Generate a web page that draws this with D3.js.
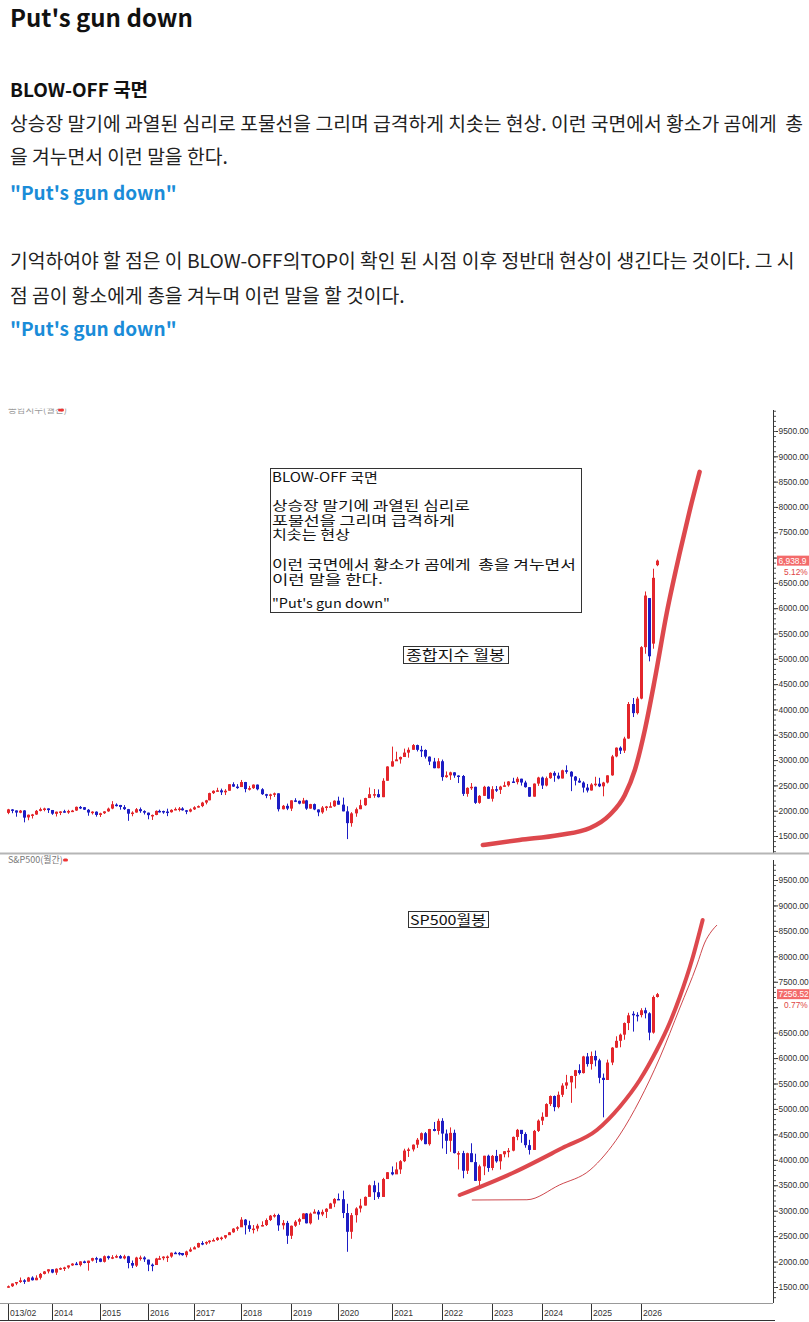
<!DOCTYPE html>
<html><head><meta charset="utf-8">
<script src="https://cdn.jsdelivr.net/npm/d3@7"></script>
<style>body{margin:0;background:#fff;overflow:hidden}</style>
</head><body><svg id="c"></svg>
<script>
// ---------------- DATA ----------------
const firstMonth = "2013-02";
// KOSPI monthly [open, high, low, close]
const kospiOHLC = [
 // 2013 (Feb-Dec)
 [1957,2036,1931,2026],[2025,2031,1950,2004],[2005,2006,1881,1963],[1960,2014,1950,2001],[2005,2011,1770,1863],[1868,1924,1811,1920],[1920,1937,1845,1926],[1924,2014,1917,1997],[1996,2060,1986,2030],[2035,2059,1988,2044],[2045,2046,1955,2011],
 // 2014
 [2013,2014,1918,1941],[1938,1982,1885,1980],[1975,1991,1913,1985],[1990,2018,1960,1961],[1963,2018,1938,1995],[1997,2016,1972,2002],[2003,2082,1995,2076],[2074,2093,2032,2068],[2069,2073,2013,2020],[2018,2032,1900,1964],[1965,1989,1925,1981],[1980,1987,1882,1916],
 // 2015
 [1916,1960,1876,1949],[1950,1990,1935,1986],[1987,2061,1978,2041],[2042,2189,2029,2127],[2120,2145,2083,2114],[2113,2114,2020,2074],[2070,2110,2015,2030],[2030,2035,1800,1941],[1942,1988,1890,1963],[1964,2053,1960,2029],[2030,2063,1958,1991],[1992,2008,1925,1961],
 // 2016
 [1961,1963,1830,1912],[1913,1924,1817,1916],[1916,2005,1910,1996],[1996,2021,1965,1994],[1994,2001,1939,1983],[1983,2040,1892,1970],[1970,2028,1962,2016],[2016,2063,2008,2034],[2034,2073,1985,2043],[2044,2069,2001,2008],[2008,2014,1931,1983],[1983,2045,1968,2026],
 // 2017
 [2026,2088,2014,2067],[2068,2104,2060,2091],[2091,2175,2070,2160],[2160,2214,2125,2205],[2205,2355,2205,2347],[2347,2402,2330,2392],[2392,2453,2380,2402],[2402,2436,2310,2363],[2363,2425,2309,2394],[2394,2524,2394,2523],[2523,2561,2470,2476],[2476,2524,2432,2467],
 // 2018
 [2467,2607,2467,2566],[2566,2569,2363,2427],[2427,2490,2400,2445],[2445,2519,2430,2515],[2515,2518,2402,2423],[2423,2445,2312,2326],[2326,2333,2247,2295],[2295,2335,2220,2322],[2322,2358,2270,2343],[2343,2343,1985,2029],[2029,2113,2025,2096],[2096,2140,2011,2041],
 // 2019
 [2041,2206,1993,2204],[2204,2246,2170,2195],[2195,2199,2126,2140],[2140,2253,2140,2203],[2203,2214,2016,2041],[2041,2135,2037,2130],[2130,2141,2010,2024],[2024,2026,1891,1967],[1967,2092,1939,2063],[2063,2094,2001,2083],[2083,2166,2075,2087],[2087,2205,2075,2197],
 // 2020
 [2197,2277,2119,2119],[2119,2258,1987,1987],[1987,2088,1439,1754],[1754,1971,1684,1947],[1947,2062,1880,2029],[2029,2217,2030,2108],[2108,2255,2095,2249],[2249,2458,2250,2326],[2326,2428,2254,2327],[2327,2420,2260,2267],[2267,2641,2267,2591],[2591,2878,2591,2873],
 // 2021
 [2873,3266,2869,2976],[2976,3165,2988,3013],[3013,3070,2930,3061],[3061,3226,3060,3147],[3147,3249,3047,3203],[3203,3316,3203,3296],[3296,3305,3170,3202],[3202,3280,3060,3199],[3199,3212,3030,3068],[3068,3072,2901,2971],[2971,3043,2838,2839],[2839,3037,2837,2977],
 // 2022
 [2977,3010,2591,2663],[2663,2775,2650,2699],[2699,2770,2608,2757],[2757,2760,2650,2695],[2695,2700,2546,2685],[2685,2705,2291,2332],[2332,2462,2276,2451],[2451,2546,2409,2472],[2472,2474,2134,2155],[2155,2308,2137,2293],[2293,2491,2290,2472],[2472,2482,2233,2236],
 // 2023
 [2236,2484,2180,2425],[2425,2488,2370,2412],[2412,2492,2330,2476],[2476,2572,2473,2501],[2501,2584,2474,2577],[2577,2650,2563,2564],[2564,2668,2520,2632],[2632,2632,2496,2556],[2556,2592,2455,2465],[2465,2466,2273,2277],[2277,2539,2277,2535],[2535,2670,2490,2655],
 // 2024
 [2655,2675,2429,2497],[2497,2674,2480,2642],[2642,2757,2630,2747],[2747,2779,2571,2692],[2692,2752,2620,2636],[2636,2810,2636,2798],[2798,2896,2730,2770],[2770,2780,2386,2674],[2674,2685,2500,2593],[2593,2641,2550,2556],[2556,2580,2360,2456],[2456,2528,2360,2399],
 // 2025
 [2399,2544,2397,2517],[2517,2670,2480,2533],[2533,2650,2466,2481],[2481,2570,2284,2556],[2556,2700,2538,2698],[2698,3102,2690,3072],[3072,3250,3055,3245],[3245,3270,3120,3186],[3186,3460,3140,3425],[3425,4146,3420,4107],[4107,4226,3850,3927],[3927,4250,3900,4214],
 // 2026 (Jan-May)
 [4214,5250,4200,5230],[5230,6330,5100,6250],[6200,6200,4950,5050],[5300,6780,5200,6600],[6850,6960,6830,6939]
];
// S&P500 monthly [open, high, low, close]
const spxOHLC = [
 // 2013 (Feb-Dec)
 [1498,1530,1485,1515],[1515,1570,1501,1569],[1569,1598,1536,1598],[1598,1687,1581,1631],[1631,1654,1560,1606],[1606,1698,1605,1686],[1686,1710,1627,1633],[1633,1730,1633,1682],[1682,1776,1647,1757],[1757,1814,1747,1806],[1806,1849,1767,1848],
 // 2014
 [1848,1850,1770,1783],[1783,1867,1738,1859],[1859,1884,1834,1872],[1872,1898,1815,1884],[1884,1924,1859,1924],[1924,1968,1915,1960],[1960,1992,1930,1931],[1931,2005,1904,2003],[2003,2019,1965,1972],[1972,2018,1821,2018],[2018,2075,2001,2068],[2068,2093,1972,2059],
 // 2015
 [2059,2064,1988,1995],[1995,2120,1981,2105],[2105,2117,2039,2068],[2068,2126,2048,2086],[2086,2135,2068,2107],[2107,2130,2056,2063],[2063,2133,2044,2104],[2104,2113,1867,1972],[1972,2021,1872,1920],[1920,2094,1893,2079],[2079,2117,2019,2080],[2080,2104,1993,2044],
 // 2016
 [2038,2038,1812,1940],[1940,1963,1810,1932],[1932,2073,1937,2060],[2060,2112,2034,2065],[2065,2104,2026,2097],[2097,2120,1992,2099],[2099,2178,2075,2174],[2174,2194,2148,2171],[2171,2188,2120,2168],[2168,2169,2115,2126],[2126,2214,2084,2199],[2199,2278,2187,2239],
 // 2017
 [2239,2301,2245,2279],[2279,2371,2271,2364],[2364,2401,2322,2363],[2363,2398,2328,2384],[2384,2418,2353,2412],[2412,2454,2405,2423],[2423,2484,2407,2470],[2470,2491,2417,2472],[2472,2519,2446,2519],[2519,2582,2521,2575],[2575,2657,2566,2648],[2648,2695,2605,2674],
 // 2018
 [2674,2873,2683,2824],[2824,2835,2533,2714],[2714,2801,2585,2641],[2641,2718,2553,2648],[2648,2742,2594,2705],[2705,2791,2691,2718],[2718,2848,2699,2816],[2816,2916,2796,2902],[2902,2941,2864,2914],[2914,2940,2604,2712],[2712,2815,2631,2760],[2760,2800,2347,2507],
 // 2019
 [2507,2708,2444,2704],[2704,2814,2681,2784],[2784,2860,2722,2834],[2834,2950,2848,2946],[2946,2954,2750,2752],[2752,2964,2729,2942],[2942,3028,2952,2980],[2980,3014,2822,2926],[2926,3022,2892,2977],[2977,3050,2856,3038],[3038,3154,3050,3141],[3141,3248,3070,3231],
 // 2020
 [3231,3338,3214,3226],[3226,3394,2855,2954],[2954,3136,2192,2585],[2585,2955,2447,2912],[2912,3068,2767,3044],[3044,3233,2966,3100],[3100,3280,3101,3271],[3271,3514,3280,3500],[3500,3588,3210,3363],[3363,3550,3234,3270],[3270,3646,3280,3622],[3622,3760,3633,3756],
 // 2021
 [3756,3870,3695,3714],[3714,3950,3725,3811],[3811,3994,3723,3973],[3973,4218,3955,4181],[4181,4238,4056,4204],[4204,4302,4164,4298],[4298,4429,4233,4395],[4395,4538,4367,4523],[4523,4546,4306,4308],[4308,4608,4279,4605],[4605,4744,4560,4567],[4567,4808,4495,4766],
 // 2022
 [4766,4818,4223,4516],[4516,4595,4115,4374],[4374,4637,4157,4530],[4530,4593,4124,4132],[4132,4169,3811,4132],[4132,4177,3637,3785],[3785,4140,3721,4130],[4130,4325,3955,3955],[3955,4120,3585,3586],[3586,3905,3492,3872],[3872,4080,3699,4080],[4080,4101,3764,3840],
 // 2023
 [3840,4095,3794,4077],[4077,4195,3943,3970],[3970,4110,3809,4109],[4109,4170,4049,4169],[4169,4231,4048,4180],[4180,4458,4167,4450],[4450,4607,4385,4589],[4589,4584,4335,4508],[4508,4541,4238,4288],[4288,4393,4104,4194],[4194,4587,4195,4568],[4568,4794,4547,4770],
 // 2024
 [4770,4932,4683,4846],[4846,5112,4845,5096],[5096,5265,5057,5254],[5254,5264,4954,5036],[5036,5342,5011,5278],[5278,5505,5234,5460],[5460,5670,5391,5522],[5522,5651,5120,5648],[5648,5768,5403,5762],[5762,5878,5675,5705],[5705,6044,5696,6032],[6032,6100,5832,5882],
 // 2025
 [5882,6128,5773,6041],[6041,6147,5837,5955],[5955,5986,5505,5612],[5612,5696,4835,5569],[5569,5969,5578,5912],[5912,6215,5861,6205],[6205,6428,6201,6339],[6339,6482,6212,6460],[6460,6700,6360,6688],[6688,6890,6550,6840],[6870,6920,6520,6849],[6849,6900,6720,6845],
 // 2026 (Jan-May)
 [6845,6980,6800,6940],[6940,6990,6780,6880],[6880,6900,6350,6500],[6500,7230,6480,7200],[7200,7280,7190,7256]
];
// hand-drawn parabola annotations [date, value]
const kospiCurve = [["2022-10-26",1322],["2023-07-21",1421],["2024-05-10",1520],["2024-12-25",1658],["2025-05-17",1915],["2025-09-05",2310],["2025-11-17",2804],["2026-01-29",3595],["2026-04-11",4583],["2026-07-08",5907],["2026-10-11",7093],["2026-12-24",7943],["2027-03-05",8694]];
const spxCurve = [["2022-05-10",3308],["2023-06-01",3741],["2024-06-01",4232],["2025-02-13",4586],["2025-07-29",5038],["2025-12-23",5568],["2026-04-26",6158],["2026-07-29",6689],["2026-10-11",7200],["2027-01-08",7927],["2027-03-27",8713]];
const spxTrail = [["2022-08-07",3210],["2023-09-13",3215],["2024-05-10",3505],["2024-12-25",3800],["2025-04-11",4094],["2025-07-29",4487],["2025-12-23",5175],["2026-05-17",6000],["2026-10-11",6983],["2027-02-13",7829],["2027-04-10",8261],["2027-06-01",8497],["2027-07-10",8615]];
const yearTickDates = ["2013-02","2014-01","2015-01","2016-01","2017-01","2018-01","2019-01","2020-01","2021-01","2022-01","2023-01","2024-01","2025-01","2026-01"];
const yearTickLabels = ["013/02","2014","2015","2016","2017","2018","2019","2020","2021","2022","2023","2024","2025","2026"];
const priceMin = 1500, priceMax = 9500;
const kospiLast = "6,938.9", kospiPct = "5.12%";
const spxLast = "7256.52", spxPct = "0.77%";

// ---------------- LAYOUT ----------------
const W = 809, H = 1322;
const svg = d3.select("#c").attr("width", W).attr("height", H);
const KR = "'Noto Sans CJK KR','Noto Sans',sans-serif";
const AX = "'Liberation Sans',Arial,sans-serif";

// blog text
const T = svg.append("g").attr("font-family", KR);
T.append("text").attr("x",10).attr("y",27).attr("font-size",24).attr("font-weight",700).attr("fill","#111").text("Put's gun down");
T.append("text").attr("x",10).attr("y",97).attr("font-size",19).attr("font-weight",700).attr("fill","#111").text("BLOW-OFF 국면");
const bodyLines = [
 ["상승장 말기에 과열된 심리로 포물선을 그리며 급격하게 치솟는 현상. 이런 국면에서 황소가 곰에게  총",131],
 ["을 겨누면서 이런 말을 한다.",164],
 ["기억하여야 할 점은 이 BLOW-OFF의TOP이 확인 된 시점 이후 정반대 현상이 생긴다는 것이다. 그 시",268],
 ["점 곰이 황소에게 총을 겨누며 이런 말을 할 것이다.",303]
];
bodyLines.forEach(([t,y]) => T.append("text").attr("x",10).attr("y",y).attr("font-size",19.3).attr("fill","#222").style("white-space","pre").text(t));
[200,336].forEach(y => T.append("text").attr("x",10).attr("y",y).attr("font-size",19).attr("font-weight",700).attr("fill","#1a8cd8").text("\"Put's gun down\""));

// x scale (piecewise, following the screenshot's year ticks)
const parseM = d3.timeParse("%Y-%m");
const parseD = d3.timeParse("%Y-%m-%d");
const yearX = [8,52,100,148,194,241,291,338,392,442,492,542,591,641];
const x = d3.scaleTime().domain(yearTickDates.map(parseM)).range(yearX);
const months = d3.timeMonth.range(parseM(firstMonth), d3.timeMonth.offset(parseM(firstMonth), kospiOHLC.length));

const axisX = 773;
const panels = [
 {top:405, bottom:853, y: d3.scaleLinear().domain([priceMin,priceMax]).range([836,431]), data:kospiOHLC, last:kospiLast, pct:kospiPct},
 {top:855, bottom:1303, y: d3.scaleLinear().domain([priceMin,priceMax]).range([1287,880]), data:spxOHLC, last:spxLast, pct:spxPct}
];
const RED = "#e3262b", BLUE = "#1d1dc4";

panels.forEach((p,pi) => {
  const g = svg.append("g");
  const clipId = "clip"+pi;
  svg.append("clipPath").attr("id",clipId).append("rect").attr("x",0).attr("y",p.top).attr("width",axisX).attr("height",p.bottom-p.top);
  const plot = g.append("g").attr("clip-path",`url(#${clipId})`);
  const c = plot.selectAll("g.c").data(p.data).join("g");
  c.append("line")
    .attr("x1",(d,i)=>Math.round(x(months[i]))+0.5).attr("x2",(d,i)=>Math.round(x(months[i]))+0.5)
    .attr("y1",d=>p.y(d[1])).attr("y2",d=>p.y(d[2]))
    .attr("stroke",d=>d[3]>=d[0]?RED:BLUE).attr("stroke-width",1);
  c.append("rect")
    .attr("x",(d,i)=>Math.round(x(months[i]))-1).attr("width",3)
    .attr("y",d=>p.y(Math.max(d[0],d[3])))
    .attr("height",d=>Math.max(1.5,Math.abs(p.y(d[0])-p.y(d[3]))))
    .attr("fill",d=>d[3]>=d[0]?RED:BLUE);
  const ly = p.y(+p.data[p.data.length-1][3]);
  const majors = d3.range(priceMin,priceMax+1,500);
  const ay = d3.axisRight(p.y).tickValues(majors).tickFormat(v => Math.abs(p.y(v)-ly-5) < 12 ? "" : d3.format(".2f")(v)).tickSize(5).tickSizeOuter(0);
  const ag = g.append("g").attr("transform",`translate(${axisX},0)`).call(ay);
  ag.select(".domain").remove();
  ag.selectAll("text").attr("font-family",AX).attr("font-size",8.4).attr("fill","#333").attr("x",5.5);
  ag.selectAll("line").attr("stroke","#333");
  const minor = d3.axisRight(p.y).tickValues(d3.range(priceMin-300,priceMax+500,100).filter(v=>p.y(v)>p.top+5 && p.y(v)<p.bottom-1)).tickFormat("").tickSize(3).tickSizeOuter(0);
  const mg = g.append("g").attr("transform",`translate(${axisX},0)`).call(minor);
  mg.select(".domain").remove();
  mg.selectAll("line").attr("stroke","#555");
  g.append("line").attr("x1",axisX+0.5).attr("x2",axisX+0.5).attr("y1",p.top+5).attr("y2",p.bottom).attr("stroke","#333");
  g.append("rect").attr("x",777).attr("y",ly-5).attr("width",32).attr("height",10).attr("fill","#f36a6a");
  g.append("text").attr("x",778.5).attr("y",ly+3.2).attr("font-family",AX).attr("font-size",8.4).attr("fill","#fff").text(p.last);
  g.append("text").attr("x",784).attr("y",ly+14).attr("font-family",AX).attr("font-size",8.4).attr("fill","#e04545").text(p.pct);
});

// panel separators & frame
svg.append("line").attr("x1",0).attr("x2",W).attr("y1",853.5).attr("y2",853.5).attr("stroke","#b5b5b5").attr("stroke-width",2);
svg.append("line").attr("x1",0).attr("x2",axisX).attr("y1",1303.5).attr("y2",1303.5).attr("stroke","#999");
svg.append("line").attr("x1",0).attr("x2",axisX+2).attr("y1",1320.5).attr("y2",1320.5).attr("stroke","#333");

// x axis year ticks
const xt = svg.append("g");
yearTickDates.forEach((d,i) => {
  const xx = Math.round(x(parseM(d)))+0.5;
  xt.append("line").attr("x1",xx).attr("x2",xx).attr("y1",1304).attr("y2",1320).attr("stroke","#333");
  xt.append("text").attr("x",xx+1.5).attr("y",1316).attr("font-family",AX).attr("font-size",8.6).attr("fill","#333").text(yearTickLabels[i]);
});

// curves
const line = (yS) => d3.line().x(d=>x(parseD(d[0]))).y(d=>yS(d[1])).curve(d3.curveMonotoneX);
svg.append("path").datum(kospiCurve).attr("d",line(panels[0].y)).attr("fill","none").attr("stroke","#d9343a").attr("stroke-width",4.5).attr("stroke-linecap","round").attr("opacity",0.9);
svg.append("path").datum(spxCurve).attr("d",line(panels[1].y)).attr("fill","none").attr("stroke","#d9343a").attr("stroke-width",4).attr("stroke-linecap","round").attr("opacity",0.9);
svg.append("path").datum(spxTrail).attr("d",line(panels[1].y)).attr("fill","none").attr("stroke","#c8343a").attr("stroke-width",1).attr("opacity",0.9);

// panel titles
svg.append("clipPath").attr("id","tclip").append("rect").attr("x",0).attr("y",408.5).attr("width",200).attr("height",20);
const tg = svg.append("g").attr("clip-path","url(#tclip)");
tg.append("text").attr("x",8).attr("y",413).attr("font-family",KR).attr("font-size",9.5).attr("fill","#999").text("종합지수(월간)");
tg.append("rect").attr("x",58).attr("y",408.5).attr("width",6).attr("height",3).attr("rx",1.5).attr("fill","#e33");
svg.append("text").attr("x",8).attr("y",863).attr("font-family",KR).attr("font-size",9).attr("fill","#777").text("S&P500(월간)");
svg.append("rect").attr("x",63).attr("y",858.5).attr("width",5).attr("height",3).attr("rx",1.5).attr("fill","#e33");

// annotation boxes (text stretched horizontally like the screenshot's bitmap font)
const note = svg.append("g").attr("font-family",KR).attr("fill","#111");
const stretched = (parent, t, x0, y0, size, w) => {
  const el = parent.append("text").attr("x",0).attr("y",0).attr("font-size",size).style("white-space","pre").text(t);
  const nat = el.node().getComputedTextLength() || w;
  el.attr("transform",`translate(${x0},${y0}) scale(${w/nat},1)`);
};
note.append("rect").attr("x",270.5).attr("y",468.5).attr("width",311).attr("height",144).attr("fill","#fff").attr("stroke","#333");
const noteLines = [["BLOW-OFF 국면",482,106],["상승장 말기에 과열된 심리로",510,198],["포물선을 그리며 급격하게",524.5,183],["치솟는 현상",539,78],["이런 국면에서 황소가 곰에게  총을 겨누면서",569,304],["이런 말을 한다.",583.5,111],["\"Put's gun down\"",608,118]];
noteLines.forEach(([t,y,w]) => stretched(note, t, 272, y, 13, w));
note.append("rect").attr("x",403.5).attr("y",646.5).attr("width",105).attr("height",17).attr("fill","#fff").attr("stroke","#333");
stretched(note, "종합지수 월봉", 406, 660, 13.5, 99);
note.append("rect").attr("x",408.5).attr("y",911.5).attr("width",80).attr("height",16).attr("fill","#fff").attr("stroke","#333");
stretched(note, "SP500월봉", 410, 925, 13.5, 76);
</script>
</body></html>
